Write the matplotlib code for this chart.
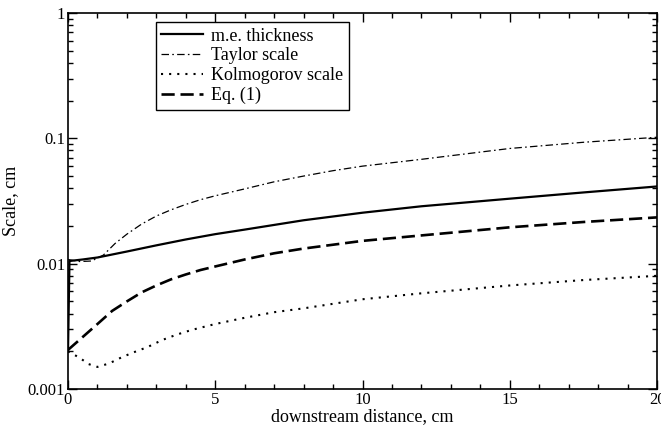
import matplotlib
matplotlib.use("Agg")
import matplotlib.pyplot as plt
from matplotlib.ticker import FixedLocator, LogLocator, FuncFormatter, NullFormatter

plt.rcParams['font.family'] = ['Liberation Serif', 'DejaVu Serif']

# values
x_me = [0, 0.05, 0.5, 1, 2, 3, 4, 5, 6, 8, 10, 12, 15, 17.5, 20]
me_thickness = [0.002, 0.0105, 0.0108, 0.0112, 0.0125, 0.0140, 0.0156, 0.0172,
                0.0187, 0.0222, 0.0255, 0.0287, 0.033, 0.037, 0.0413]

x_taylor = [0, 0.4, 0.8, 1.2, 1.6, 2, 2.5, 3, 3.5, 4, 4.5, 5, 6, 7, 8, 9, 10,
            12, 15, 17.5, 20]
taylor = [0.0108, 0.0104, 0.0105, 0.0117, 0.0145, 0.0172, 0.0207, 0.0240, 0.0269,
          0.0297, 0.0324, 0.0348, 0.0395, 0.0450, 0.0500, 0.0552, 0.0600,
          0.068, 0.083, 0.093, 0.102]

x_kolm = [0, 0.4, 0.7, 1, 1.4, 1.8, 2.2, 2.7, 3.2, 3.7, 4.2, 5, 6, 7, 8, 10, 12,
          15, 17.5, 20]
kolmogorov = [0.0020, 0.00177, 0.00158, 0.00150, 0.00160, 0.00178, 0.00195,
              0.00216, 0.00246, 0.00272, 0.00296, 0.0033, 0.0037, 0.0041, 0.0044,
              0.0052, 0.0058, 0.0067, 0.0074, 0.0080]

x_eq = [0, 0.5, 1, 1.5, 2, 2.5, 3, 3.5, 4, 4.5, 5, 6, 7, 8, 10, 12, 15, 17.5, 20]
eq1 = [0.00205, 0.0026, 0.0033, 0.0042, 0.0050, 0.0059, 0.0067, 0.0075, 0.0082,
       0.0089, 0.0095, 0.0108, 0.0121, 0.0132, 0.0152, 0.0168, 0.0195, 0.0215,
       0.0234]

x_major = [0, 5, 10, 15, 20]
y_major = [0.001, 0.01, 0.1, 1]

fig = plt.figure(figsize=(6.61, 4.26), dpi=100)
ax = fig.add_axes([68/661, 1 - 389/426, 589/661, 376/426])

ax.plot(x_me, me_thickness, color='black', lw=1.6, label='m.e. thickness')
ax.plot(x_taylor, taylor, color='black', lw=0.9, linestyle=(0, (6.0, 2.6, 1.3, 2.6)),
        label='Taylor scale')
ax.plot(x_kolm, kolmogorov, color='black', lw=1.5, linestyle=(0, (1, 2.9)),
        label='Kolmogorov scale')
ax.plot(x_eq, eq1, color='black', lw=1.9, linestyle=(0, (5.0, 2.2)), label='Eq. (1)')

ax.set_yscale('log')
ax.set_xlim(0, 20)
ax.set_ylim(0.001, 1)

ax.xaxis.set_major_locator(FixedLocator(x_major))
ax.xaxis.set_minor_locator(FixedLocator(list(range(0, 21))))
ax.yaxis.set_major_locator(FixedLocator(y_major))
ax.yaxis.set_minor_locator(LogLocator(base=10, subs=range(2, 10)))
ax.yaxis.set_major_formatter(FuncFormatter(lambda v, p: f'{v:g}'))
ax.yaxis.set_minor_formatter(NullFormatter())

ax.tick_params(which='both', direction='in', top=True, right=True, width=1.0,
               labelsize=12, pad=2)
ax.tick_params(which='major', length=6.5)
ax.tick_params(which='minor', length=3.3)
for s in ax.spines.values():
    s.set_linewidth(1.2)

ax.set_xlabel('downstream distance, cm', fontsize=13, labelpad=0)
ax.set_ylabel('Scale, cm', fontsize=13, labelpad=6)

leg = ax.legend(loc='upper left', bbox_to_anchor=(156/661, 1 - 22.3/426),
                bbox_transform=fig.transFigure, borderaxespad=0, fontsize=13,
                handlelength=2.3, handletextpad=0.45, labelspacing=0.15,
                borderpad=0.3, fancybox=False, framealpha=1, edgecolor='black')
leg.get_frame().set_linewidth(1.0)

fig.savefig('out.png', dpi=100)
